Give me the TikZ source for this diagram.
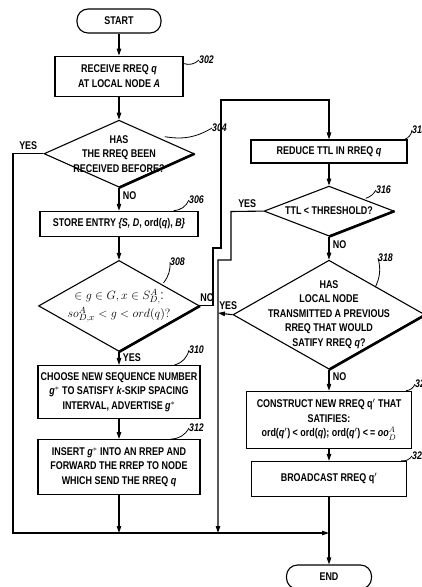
\documentclass[tikz,border=0pt]{standalone}
\usepackage{fontspec}
\setmainfont{Liberation Sans}[FakeStretch=0.8]
\usetikzlibrary{shapes.geometric, arrows.meta, positioning}

\begin{document}
\begin{tikzpicture}[x=1pt, y=-1pt,
    node distance=23pt and 0pt,
    font=\fontsize{11.2}{14.5}\selectfont\bfseries,
    caja/.style={rectangle, draw, line width=1.1pt, align=center, inner xsep=1pt, inner ysep=3pt},
    rombo/.style={diamond, draw, line width=1.1pt, align=center, inner sep=-10pt},
    terminal/.style={rectangle, draw, line width=1.1pt, rounded corners=11pt, minimum width=84pt, minimum height=24pt},
    flecha/.style={-{Triangle[length=7pt, width=4.5pt]}, line width=1.1pt},
    linea/.style={line width=1.1pt},
    sombra/.style={line width=2.6pt},
    guia/.style={line width=0.8pt},
    numero/.style={font=\fontsize{11}{13}\selectfont\bfseries\itshape, inner sep=0pt, anchor=west}
]

\useasboundingbox[fill=white] (0,0) rectangle (422,587);

% columna izquierda
\node (inicio) [terminal] at (119,21) {START};

\node (p302) [caja, minimum width=128pt, minimum height=40pt, below=22pt of inicio] {RECEIVE RREQ \textit{q}\\AT LOCAL NODE \textit{A}};

\node (p304) [rombo, minimum width=150pt, minimum height=67pt, shape aspect=2.24, below=of p302] {HAS\\THE RREQ BEEN\\RECEIVED BEFORE?};

\node (p306) [caja, minimum width=158pt, minimum height=25pt, below=of p304] {STORE ENTRY \textit{\{S, D}, ord(\textit{q}), \textit{B\}}};

\node (p308) [rombo, minimum width=161pt, minimum height=91pt, shape aspect=1.77, below=of p306, font=\fontsize{13}{18}\selectfont] {$\in g\in G, x\in S^{A}_{D,}$:\\$so^{A}_{D,x}<g<ord(q)?$};

\node (p310) [caja, minimum width=162pt, minimum height=53pt, below=13pt of p308] {CHOOSE NEW SEQUENCE NUMBER\\\textit{g}$^{*}$ TO SATISFY \textit{k}-SKIP SPACING\\INTERVAL, ADVERTISE \textit{g}$^{*}$};

\node (p312) [caja, minimum width=162pt, minimum height=55pt, below=20pt of p310] {INSERT \textit{g}$^{*}$ INTO AN RREP AND\\FORWARD THE RREP TO NODE\\WHICH SEND THE RREQ \textit{q}};

% columna derecha
\node (p314) [caja, minimum width=156pt, minimum height=23pt] at (329,151.5) {REDUCE TTL IN RREQ \textit{q}};

\node (p316) [rombo, minimum width=130pt, minimum height=50pt, shape aspect=2.6, below=22pt of p314] {TTL < THRESHOLD?};

\node (p318) [rombo, minimum width=192pt, minimum height=109pt, shape aspect=1.76, below=of p316] {HAS\\LOCAL NODE\\TRANSMITTED A PREVIOUS\\RREQ THAT WOULD\\SATIFY RREQ \textit{q}?};

\node (p320) [caja, minimum width=165pt, minimum height=57pt, below=21pt of p318] {CONSTRUCT NEW RREQ q$'$ THAT\\SATIFIES:\\ord(\textit{q}$'$) < ord(\textit{q}); ord(\textit{q}$'$) <\,= \textit{oo}$^{A}_{D}$};

\node (p322) [caja, minimum width=155pt, minimum height=35pt, below=12pt of p320] {BROADCAST RREQ q$'$};

\node (fin) [terminal, minimum width=85pt] at (329,577) {END};

% numeros de referencia
\node (n302) [numero] at (199,60) {302};
\node (n304) [numero] at (212,128) {304};
\node (n306) [numero] at (189,200) {306};
\node (n308) [numero] at (170,262) {308};
\node (n310) [numero] at (189,350) {310};
\node (n312) [numero] at (189,428) {312};
\node (n314) [numero] at (412,130) {314};
\node (n316) [numero] at (376,190) {316};
\node (n318) [numero] at (378,258) {318};
\node (n320) [numero] at (415,384) {320};
\node (n322) [numero] at (412,456) {322};

\draw [guia] ([yshift=-8pt]p302.north east) to[bend right=30] (n302.west);
\draw [guia] ([xshift=8pt]p304.north east) to[bend right=20] (n304.west);
\draw [guia] ([xshift=-25pt]p306.north east) to[bend right=30] (n306.west);
\draw [guia] ([xshift=4pt]p308.north east) to[bend right=20] (n308.west);
\draw [guia] ([xshift=-26pt]p310.north east) to[bend right=30] (n310.west);
\draw [guia] ([xshift=-30pt]p312.north east) to[bend right=30] (n312.west);
\draw [guia] ([xshift=-3pt]p314.north east) to[bend right=30] (n314.west);
\draw [guia] ([xshift=4pt]p316.north east) to[bend right=20] (n316.west);
\draw [guia] ([xshift=-2pt]p318.north east) to[bend right=20] (n318.west);
\draw [guia] ([xshift=-6pt]p320.north east) to[bend right=30] (n320.west);
\draw [guia] ([xshift=-6pt]p322.north east) to[bend right=30] (n322.west);

% bordes gruesos de los rombos
\foreach \r in {p304, p308, p316, p318}
    \draw [sombra] (\r.east) -- (\r.south);

% puntos de paso
\coordinate (nivel) at (0,533);
\coordinate (borde) at (13,0);
\coordinate (union) at (p322.south |- nivel);

% conectores
\draw [flecha] (inicio) -- (p302);
\draw [flecha] (p302) -- (p304);
\draw [flecha] (p304) -- node[right, pos=0.35] {NO} (p306);
\draw [flecha] (p306) -- (p308);
\draw [flecha] (p308) -- node[right, pos=0.4] {YES} (p310);
\draw [flecha] (p310) -- (p312);
\draw [flecha] (p312) -- (p312 |- nivel);

\draw [flecha] (p304.west) -- node[above] {YES} (p304.west -| borde) -- (borde |- nivel) -- (union);

\draw [flecha] (p308.east) -- node[above] {NO} ++(14,0) -| (213,248) -| (221,100) -| (p314.north);

\draw [flecha] (p314) -- (p316);
\draw [flecha] (p316) -- node[right, pos=0.35] {NO} (p318);
\draw [flecha] (p318) -- node[right, pos=0.35] {NO} (p320);
\draw [flecha] (p320) -- (p322);
\draw [linea] (p322) -- (union);
\draw [flecha] (union) -- (fin);

\draw [flecha] (p316.west) -- node[above] {YES} (231,211.5) -- (231,260) -- (218,260) -- (218,533);
\draw [flecha] (p318.west) -- node[above, xshift=3pt] {YES} (218,313);

\end{tikzpicture}
\end{document}
